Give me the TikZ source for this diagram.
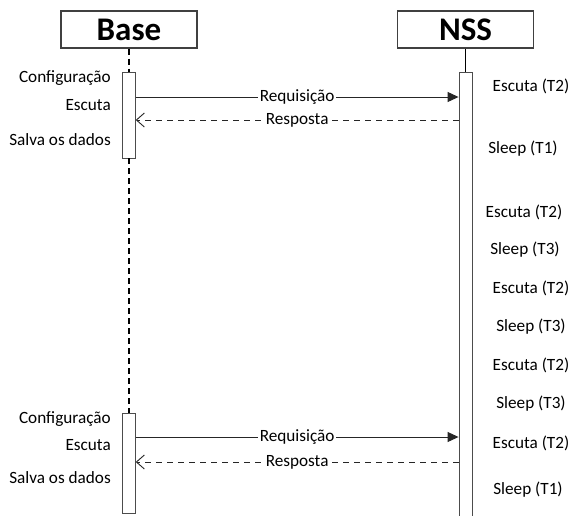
\documentclass[tikz,border=0pt]{standalone}
\usepackage{fontspec}
\setmainfont{Carlito}
\usetikzlibrary{arrows.meta}
\begin{document}
\begin{tikzpicture}[x=1pt,y=-1pt,
  actor/.style={draw=black!75, line width=1.3pt, fill=white, minimum width=136pt,
    minimum height=37pt, inner sep=0pt, font=\fontsize{33}{35}\selectfont\bfseries},
  actbox/.style={draw=black!70, line width=0.9pt, fill=white, minimum width=12.5pt, inner sep=0pt},
  lifeline/.style={line width=1.4pt, dash pattern=on 6pt off 4pt},
  reqmsg/.style={line width=1pt, draw=black!85, -{Triangle[length=11pt,width=10pt]}},
  repmsg/.style={line width=1pt, draw=black!85, dash pattern=on 6pt off 5pt,
    -{Straight Barb[length=8pt,width=14pt,line width=0.9pt]}},
  txt/.style={font=\fontsize{17.2}{19}\selectfont, inner sep=1pt},
  msglabel/.style={txt, fill=white, inner sep=1.5pt}
]
\useasboundingbox (0,0) rectangle (573,515);

% participants
\node[actor] (base) at (129,29.5) {Base};
\node[actor] (nss) at (465.5,29.5) {NSS};

% activation bars
\node[actbox, minimum height=86pt] (a1) at (129,115) {};
\node[actbox, minimum height=100pt] (a2) at (129,463) {};
\node[actbox, minimum height=450pt, minimum width=13pt] (n1) at (465.5,297) {};

% lifelines
\draw[lifeline] (base.south) -- (a1.north);
\draw[lifeline] (a1.south) -- (a2.north);
\draw[line width=1.2pt] (nss.south) -- (n1.north);

% first exchange
\draw[reqmsg] (a1.east |- 0,97) -- node[msglabel] {Requisição} (n1.west |- 0,97);
\draw[repmsg] (n1.west |- 0,120) -- node[msglabel] {Resposta} (a1.east |- 0,120);

% second exchange
\draw[reqmsg] (a2.east |- 0,437) -- node[msglabel] {Requisição} (n1.west |- 0,437);
\draw[repmsg] (n1.west |- 0,462) -- node[msglabel] {Resposta} (a2.east |- 0,462);

% Base states
\node[txt, anchor=east] (b1) at (112,78) {Configuração};
\node[txt, anchor=east] (b2) at (112,105) {Escuta};
\node[txt, anchor=east] (b3) at (112,140) {Salva os dados};
\node[txt, anchor=east] (b4) at (112,419) {Configuração};
\node[txt, anchor=east] (b5) at (112,445) {Escuta};
\node[txt, anchor=east] (b6) at (112,478) {Salva os dados};

% NSS states
\node[txt] (s1) at (531,86) {Escuta (T2)};
\node[txt] (s2) at (523,149) {Sleep (T1)};
\node[txt] (s3) at (524,212) {Escuta (T2)};
\node[txt] (s4) at (525,250) {Sleep (T3)};
\node[txt] (s5) at (531,288) {Escuta (T2)};
\node[txt] (s6) at (531,327) {Sleep (T3)};
\node[txt] (s7) at (531,365) {Escuta (T2)};
\node[txt] (s8) at (531,404) {Sleep (T3)};
\node[txt] (s9) at (531,443) {Escuta (T2)};
\node[txt] (s10) at (528,490) {Sleep (T1)};
\end{tikzpicture}
\end{document}
